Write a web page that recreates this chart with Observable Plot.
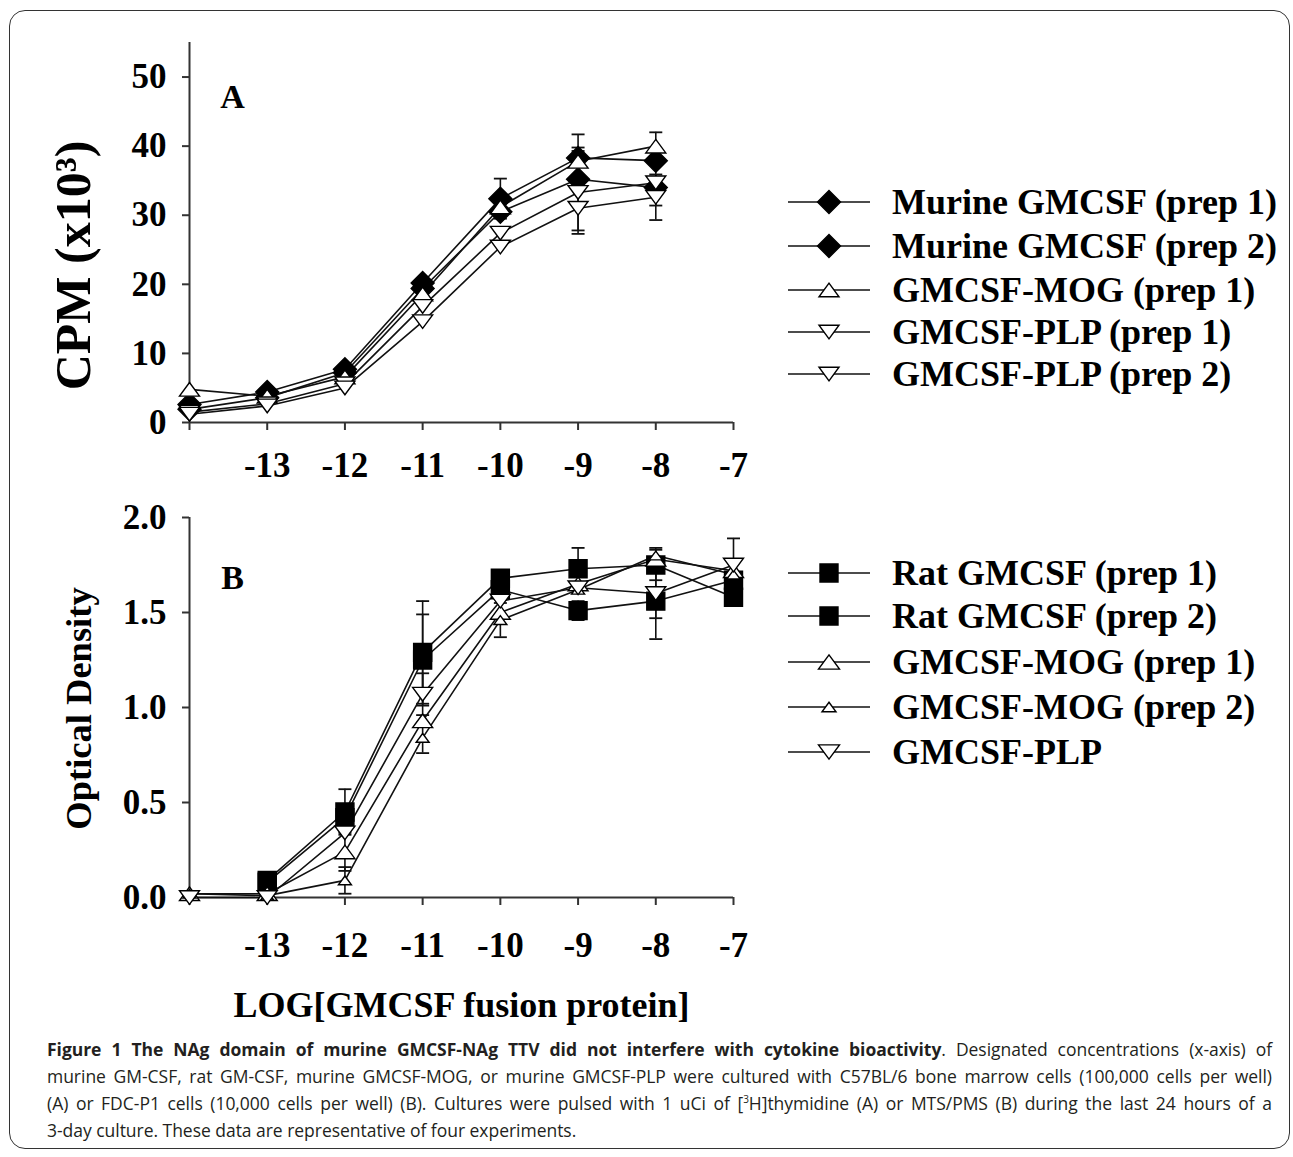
<!DOCTYPE html>
<html><head><meta charset="utf-8">
<script src="https://cdn.jsdelivr.net/npm/d3@7"></script>
<script src="https://cdn.jsdelivr.net/npm/@observablehq/plot@0.6"></script>
<style>
body{margin:0;background:#fff;}
#wrap{position:relative;width:1293px;height:1157px;overflow:hidden;background:#fff;}
#frame{position:absolute;left:9px;top:10px;width:1281px;height:1139px;border:1.6px solid #333;border-radius:16px;box-sizing:border-box;}
.plot{position:absolute;left:0;}
.legend{position:absolute;left:786px;top:0;font-family:"Liberation Serif",serif;font-weight:bold;font-size:36px;color:#000;}
.row{position:absolute;left:0;height:44px;display:flex;align-items:center;white-space:nowrap;}
.row svg{margin-right:20px;}
#caption{position:absolute;left:47px;top:1036px;width:1225px;font-family:"Open Sans",sans-serif;font-size:17.5px;line-height:27px;color:#231f20;}
#caption div{text-align:justify;text-align-last:justify;white-space:nowrap;}
#caption div.last{text-align-last:left;}
#caption sup{font-size:10px;line-height:0;}
</style></head>
<body><div id="wrap"><div id="frame"></div></div>
<script>
// ---------- data ----------
const xA = [-14, -13, -12, -11, -10, -9, -8];
const xB = [-14, -13, -12, -11, -10, -9, -8, -7];
const xTicks = [-14, -13, -12, -11, -10, -9, -8, -7];
const yTicksA = [0, 10, 20, 30, 40, 50];
const yTicksB = [0, 0.5, 1.0, 1.5, 2.0];

// Panel A: CPM (x10^3)
const namesA = ["Murine GMCSF (prep 1)", "Murine GMCSF (prep 2)", "GMCSF-MOG (prep 1)", "GMCSF-PLP (prep 1)", "GMCSF-PLP (prep 2)"];
const murine1A = [2.6, 4.4, 7.7, 20.2, 32.4, 38.3, 37.9];
const murine1AErr = [0, 0, 0, 0, 2.9, 3.4, 0];
const murine2A = [1.9, 3.6, 7.2, 19.4, 30.5, 35.2, 34.0];
const murine2AErr = [0, 0, 0, 0, 0, 0, 0];
const mog1A = [4.8, 3.8, 6.6, 18.6, 31.2, 37.8, 40.0];
const mog1AErr = [0, 0, 0, 0, 0, 2.0, 2.0];
const plp1A = [1.5, 2.7, 5.6, 16.8, 27.4, 33.3, 34.7];
const plp1AErr = [0, 0, 0, 0, 0, 6.0, 3.3];
const plp2A = [1.2, 2.4, 5.0, 14.6, 25.4, 31.0, 32.6];
const plp2AErr = [0, 0, 0, 0, 0, 3.2, 3.3];

// Panel B: Optical Density
const namesB = ["Rat GMCSF (prep 1)", "Rat GMCSF (prep 2)", "GMCSF-MOG (prep 1)", "GMCSF-MOG (prep 2)", "GMCSF-PLP"];
const rat1B = [null, 0.09, 0.45, 1.29, 1.68, 1.73, 1.75, 1.58];
const rat1BErr = [0, 0.04, 0.12, 0.27, 0, 0.11, 0.08, 0];
const rat2B = [null, 0.08, 0.42, 1.25, 1.62, 1.51, 1.56, 1.67];
const rat2BErr = [0, 0, 0, 0.24, 0, 0.05, 0.20, 0.09];
const mog1B = [0.02, 0.02, 0.24, 0.93, 1.50, 1.65, 1.78, 1.72];
const mog1BErr = [0, 0, 0.10, 0, 0, 0, 0.06, 0];
const mog2B = [0.02, 0.01, 0.09, 0.84, 1.46, 1.62, 1.80, 1.70];
const mog2BErr = [0, 0, 0.07, 0.08, 0.09, 0, 0, 0];
const plpB = [0.00, 0.00, 0.34, 1.07, 1.56, 1.63, 1.60, 1.75];
const plpBErr = [0, 0, 0, 0.11, 0, 0, 0.13, 0.14];

// ---------- symbols ----------
function mkSym(kind) {
  return {draw(ctx, size) {
    const s = Math.sqrt(size / Math.PI);
    if (kind === "diamond") { ctx.moveTo(0, -s); ctx.lineTo(s, 0); ctx.lineTo(0, s); ctx.lineTo(-s, 0); ctx.closePath(); }
    else if (kind === "square") { ctx.rect(-s, -s, 2 * s, 2 * s); }
    else if (kind === "up") { const h = s * 0.68; ctx.moveTo(0, -h); ctx.lineTo(s, h); ctx.lineTo(-s, h); ctx.closePath(); }
    else if (kind === "down") { const h = s * 0.68; ctx.moveTo(0, h); ctx.lineTo(s, -h); ctx.lineTo(-s, -h); ctx.closePath(); }
    else if (kind === "cap") { ctx.moveTo(-s, 0); ctx.lineTo(s, 0); }
  }};
}
const SYM = {diamond: mkSym("diamond"), square: mkSym("square"), up: mkSym("up"), down: mkSym("down"), cap: mkSym("cap")};

const seriesA = [
  {name: namesA[0], v: murine1A, e: murine1AErr, mk: "diamond", r: 11.5, fill: "#000", lr: 11.5},
  {name: namesA[1], v: murine2A, e: murine2AErr, mk: "diamond", r: 11.5, fill: "#000", lr: 11.5},
  {name: namesA[2], v: mog1A, e: mog1AErr, mk: "up", r: 10, fill: "#fff", lr: 10},
  {name: namesA[3], v: plp1A, e: plp1AErr, mk: "down", r: 10, fill: "#fff", lr: 10},
  {name: namesA[4], v: plp2A, e: plp2AErr, mk: "down", r: 10, fill: "#fff", lr: 10}
];
const seriesB = [
  {name: namesB[0], v: rat1B, e: rat1BErr, mk: "square", r: 9, fill: "#000", lr: 9},
  {name: namesB[1], v: rat2B, e: rat2BErr, mk: "square", r: 9, fill: "#000", lr: 9},
  {name: namesB[2], v: mog1B, e: mog1BErr, mk: "up", r: 10, fill: "#fff", lr: 10.5},
  {name: namesB[3], v: mog2B, e: mog2BErr, mk: "up", r: 6.5, fill: "#fff", lr: 7},
  {name: namesB[4], v: plpB, e: plpBErr, mk: "down", r: 10, fill: "#fff", lr: 10.5}
];

function dataMarks(series, xs) {
  const pts = series.flatMap((s, k) => xs.map((x, i) => ({k, x, y: s.v[i], e: s.e[i]})));
  const valid = pts.filter(d => d.y != null);
  const errs = valid.filter(d => d.e > 0);
  const caps = errs.flatMap(d => [{x: d.x, y: d.y - d.e}, {x: d.x, y: d.y + d.e}]);
  const out = [];
  series.forEach((s, k) => out.push(Plot.line(valid.filter(d => d.k === k), {x: "x", y: "y", stroke: "#111", strokeWidth: 1.6})));
  out.push(Plot.ruleX(errs, {x: "x", y1: d => d.y - d.e, y2: d => d.y + d.e, stroke: "#111", strokeWidth: 1.6}));
  out.push(Plot.dot(caps, {x: "x", y: "y", symbol: SYM.cap, r: 6.5, stroke: "#111", strokeWidth: 1.8, fill: "none"}));
  series.forEach((s, k) => out.push(Plot.dot(valid.filter(d => d.k === k), {x: "x", y: "y", symbol: SYM[s.mk], r: s.r, fill: s.fill, stroke: "#000", strokeWidth: 1.4})));
  return out;
}

const baseStyle = {fontFamily: "'Liberation Serif', serif", fontSize: "35px", fontWeight: "bold", color: "#000", background: "transparent", overflow: "visible"};
const xFmt = d => d === -14 ? "" : String(d);

const plotA = Plot.plot({
  width: 760, height: 480,
  marginLeft: 189, marginRight: 27, marginTop: 42, marginBottom: 58,
  x: {domain: [-14, -7]}, y: {domain: [0, 55]},
  style: baseStyle,
  marks: [
    Plot.axisX({ticks: xTicks, tickFormat: xFmt, tickSize: 8, tickPadding: 22, label: null, strokeWidth: 2, stroke: "#333"}),
    Plot.axisY({ticks: yTicksA, tickFormat: d => String(d), tickSize: 7, tickPadding: 16, label: null, strokeWidth: 2, stroke: "#333"}),
    Plot.ruleY([0], {x1: -14, x2: -7, stroke: "#333", strokeWidth: 2}),
    Plot.ruleX([-14], {y1: 0, y2: 55, stroke: "#333", strokeWidth: 2}),
    Plot.text(["CPM (x10³)"], {text: d => d, frameAnchor: "left", textAnchor: "middle", rotate: -90, dx: -116, dy: 33, fontSize: 50, lineAnchor: "middle"}),
    Plot.text(["A"], {text: d => d, frameAnchor: "top-left", textAnchor: "middle", dx: 43, dy: 55, fontSize: 34, lineAnchor: "middle"}),
    ...dataMarks(seriesA, xA)
  ]
});

const plotB = Plot.plot({
  width: 760, height: 540,
  marginLeft: 189, marginRight: 27, marginTop: 37, marginBottom: 123,
  x: {domain: [-14, -7]}, y: {domain: [0, 2]},
  style: baseStyle,
  marks: [
    Plot.axisX({ticks: xTicks, tickFormat: xFmt, tickSize: 8, tickPadding: 27, label: null, strokeWidth: 2, stroke: "#333"}),
    Plot.axisY({ticks: yTicksB, tickFormat: d => d.toFixed(1), tickSize: 7, tickPadding: 16, label: null, strokeWidth: 2, stroke: "#333"}),
    Plot.ruleY([0], {x1: -14, x2: -7, stroke: "#333", strokeWidth: 2}),
    Plot.ruleX([-14], {y1: 0, y2: 2, stroke: "#333", strokeWidth: 2}),
    Plot.text(["Optical Density"], {text: d => d, frameAnchor: "left", textAnchor: "middle", rotate: -90, dx: -110, dy: 1, fontSize: 36.5, lineAnchor: "middle"}),
    Plot.text(["B"], {text: d => d, frameAnchor: "top-left", textAnchor: "middle", dx: 43, dy: 61, fontSize: 34, lineAnchor: "middle"}),
    Plot.text(["LOG[GMCSF fusion protein]"], {text: d => d, frameAnchor: "bottom", dy: 108, fontSize: 36, lineAnchor: "middle"}),
    ...dataMarks(seriesB, xB)
  ]
});

const wrap = document.getElementById("wrap");
plotA.classList.add("plot"); plotA.style.top = "0px"; plotA.style.position = "absolute";
plotB.classList.add("plot"); plotB.style.top = "480px"; plotB.style.position = "absolute";
wrap.appendChild(plotA); wrap.appendChild(plotB);

function legend(series, centers) {
  const div = document.createElement("div");
  div.className = "legend";
  series.forEach((s, i) => {
    const row = document.createElement("div");
    row.className = "row";
    row.style.top = (centers[i] - 22) + "px";
    const p = d3.path(); SYM[s.mk].draw(p, s.lr * s.lr * Math.PI);
    const svg = d3.create("svg").attr("width", 86).attr("height", 30).attr("viewBox", "-43 -15 86 30");
    svg.append("line").attr("x1", -41).attr("x2", 41).attr("stroke", "#111").attr("stroke-width", 1.6);
    svg.append("path").attr("d", p.toString()).attr("fill", s.fill).attr("stroke", "#000").attr("stroke-width", 1.4);
    row.appendChild(svg.node());
    const t = document.createElement("span"); t.textContent = s.name; row.appendChild(t);
    div.appendChild(row);
  });
  wrap.appendChild(div);
}
legend(seriesA, [202, 246, 290, 332, 374]);
legend(seriesB, [573, 616, 662, 707, 752]);

const cap = document.createElement("div");
cap.id = "caption";
cap.innerHTML = `<div><span><b>Figure 1 The NAg domain of murine GMCSF-NAg TTV did not interfere with cytokine bioactivity</b>. Designated concentrations (x-axis) of</span></div>
<div><span>murine GM-CSF, rat GM-CSF, murine GMCSF-MOG, or murine GMCSF-PLP were cultured with C57BL/6 bone marrow cells (100,000 cells per well)</span></div>
<div><span>(A) or FDC-P1 cells (10,000 cells per well) (B). Cultures were pulsed with 1 uCi of [<sup>3</sup>H]thymidine (A) or MTS/PMS (B) during the last 24 hours of a</span></div>
<div class="last"><span>3-day culture. These data are representative of four experiments.</span></div>`;
wrap.appendChild(cap);
// shrink letter-spacing on any caption line whose natural width exceeds the box
const boxW = 1225;
let minLS = 0;
cap.querySelectorAll("div > span").forEach(sp => {
  const w = sp.getBoundingClientRect().width;
  const n = sp.textContent.length;
  if (w > boxW - 4) minLS = Math.min(minLS, (boxW - 4 - w) / n);
});
if (minLS < 0) cap.style.letterSpacing = minLS.toFixed(3) + "px";
</script>
</body></html>
